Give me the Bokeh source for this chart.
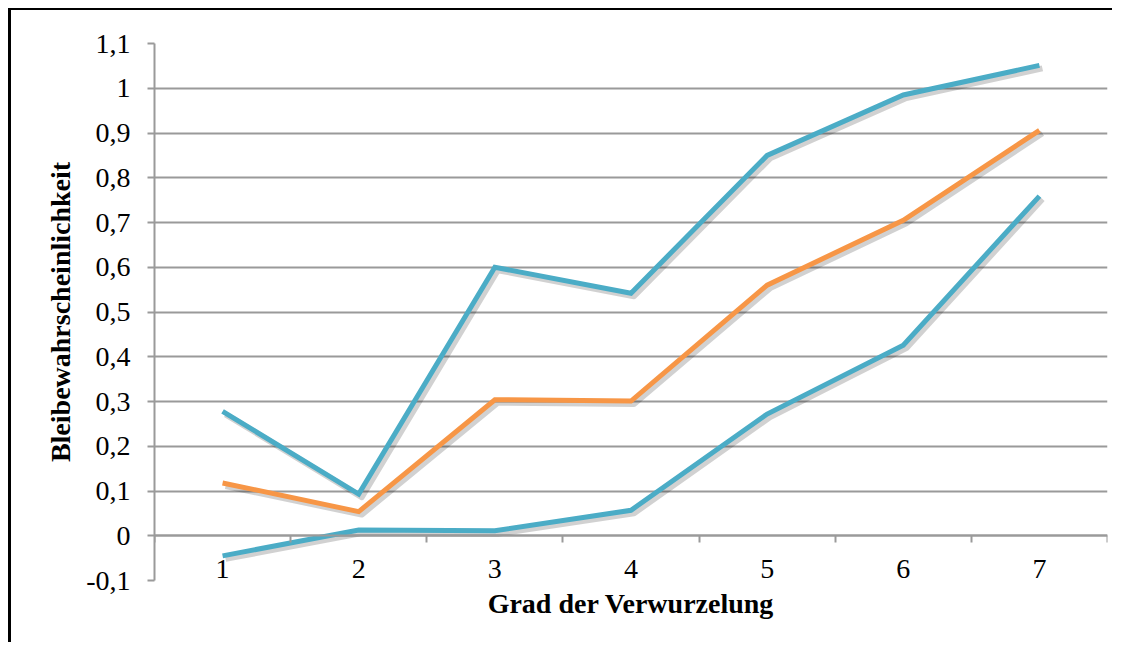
import numpy as np
from bokeh.plotting import figure
from bokeh.models import LinearAxis, FixedTicker, Range1d, Title, Grid
from bokeh.embed import file_html
from bokeh.resources import INLINE

# ---------------- data ----------------
categories = [1, 2, 3, 4, 5, 6, 7]
x_labels = ["1", "2", "3", "4", "5", "6", "7"]
upper_teal = [0.278, 0.093, 0.600, 0.542, 0.850, 0.985, 1.051]
orange_mid = [0.118, 0.054, 0.304, 0.301, 0.560, 0.705, 0.906]
lower_teal = [-0.045, 0.013, 0.011, 0.057, 0.272, 0.426, 0.759]
y_ticks = [-0.1, 0.0, 0.1, 0.2, 0.3, 0.4, 0.5, 0.6, 0.7, 0.8, 0.9, 1.0, 1.1]
y_labels = ["-0,1", "0", "0,1", "0,2", "0,3", "0,4", "0,5", "0,6", "0,7", "0,8", "0,9", "1", "1,1"]
x_title = "Grad der Verwurzelung"
y_title = "Bleibewahrscheinlichkeit"

TEAL = "#4BACC6"
ORANGE = "#F79646"
GRID = "#9a9a9a"
SERIF = "Liberation Serif"
FS = "28px"

W, H = 1104, 634
p = figure(width=W, height=H,
           x_range=Range1d(0.5, len(categories) + 0.5),
           y_range=Range1d(y_ticks[0], y_ticks[-1]),
           x_axis_type=None, y_axis_type=None,
           output_backend="svg", toolbar_location=None,
           min_border_left=143, min_border_right=8,
           min_border_top=33, min_border_bottom=64)
p.outline_line_color = None
p.background_fill_color = "white"
p.border_fill_color = "white"
p.styles = {"border-top": "2px solid black", "border-left": "3px solid black",
            "margin-left": "8px", "margin-top": "8px"}

# y axis + grid
yt = FixedTicker(ticks=y_ticks)
yaxis = LinearAxis(ticker=yt, axis_label=y_title)
yaxis.major_label_overrides = {t: l for t, l in zip(y_ticks, y_labels)}
yaxis.axis_line_color = GRID
yaxis.axis_line_width = 2
yaxis.major_tick_line_color = GRID
yaxis.major_tick_line_width = 2
yaxis.major_tick_out = 7
yaxis.major_tick_in = 0
yaxis.minor_tick_line_color = None
yaxis.major_label_text_font = SERIF
yaxis.major_label_text_font_size = FS
yaxis.major_label_text_color = "black"
yaxis.major_label_standoff = 17
yaxis.axis_label_text_font = SERIF
yaxis.axis_label_text_font_style = "bold"
yaxis.axis_label_text_font_size = FS
yaxis.axis_label_text_color = "black"
yaxis.axis_label_standoff = 7
p.add_layout(yaxis, "left")
p.add_layout(Grid(dimension=1, ticker=yt, grid_line_color=GRID, grid_line_width=2), "center")

# x axis crossing at y = 0
bounds = [c - 0.5 for c in categories] + [categories[-1] + 0.5]
xt = FixedTicker(ticks=categories, minor_ticks=bounds)
xaxis = LinearAxis(ticker=xt, fixed_location=0)
xaxis.major_label_overrides = {c: l for c, l in zip(categories, x_labels)}
xaxis.axis_line_color = GRID
xaxis.axis_line_width = 2
xaxis.major_tick_line_color = None
xaxis.major_tick_out = 0
xaxis.major_tick_in = 0
xaxis.minor_tick_line_color = GRID
xaxis.minor_tick_line_width = 2
xaxis.minor_tick_out = 7
xaxis.minor_tick_in = 0
xaxis.major_label_text_font = SERIF
xaxis.major_label_text_font_size = FS
xaxis.major_label_text_color = "black"
xaxis.major_label_standoff = 17
p.add_layout(xaxis, "below")

p.add_layout(Title(text=x_title, align="center", text_font=SERIF, text_font_style="bold",
                   text_font_size=FS, text_color="black", standoff=11), "below")

# shadows (offset a few pixels down-right)
dx, dy = 3.0 / 136.0, -3.0 / 448.0
for ys in (upper_teal, orange_mid, lower_teal):
    p.line(np.array(categories) + dx, np.array(ys) + dy, line_color="black",
           line_alpha=0.18, line_width=6, line_join="round")

for ys, col in ((upper_teal, TEAL), (orange_mid, ORANGE), (lower_teal, TEAL)):
    p.line(categories, ys, line_color=col, line_width=5, line_join="miter", line_cap="butt")

open("out.html", "w").write(file_html(p, INLINE))
